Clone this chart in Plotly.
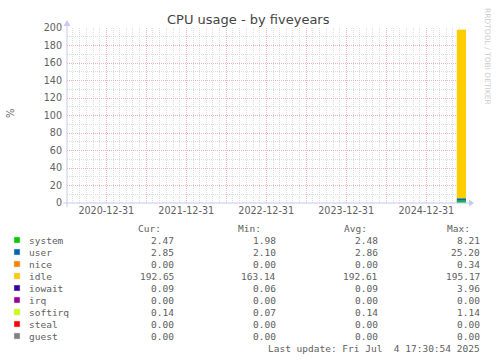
import plotly.graph_objects as go

# ---- data ----
dates = ["2025-05-19", "2025-05-26", "2025-06-02", "2025-06-09", "2025-06-16", "2025-06-23", "2025-06-30"]
series_names = ["system", "user", "nice", "idle", "iowait", "irq", "softirq", "steal", "guest"]
series_colors = ["#00CC00", "#0066B3", "#FF8000", "#FFCC00", "#330099", "#990099", "#CCFF00", "#FF0000", "#808080"]
system = [2.5, 2.45, 2.5, 2.48, 2.46, 2.47, 2.47]
user = [2.9, 2.85, 2.88, 2.86, 2.84, 2.85, 2.85]
nice = [0.0, 0.0, 0.0, 0.0, 0.0, 0.0, 0.0]
idle = [192.5, 192.6, 192.55, 192.6, 192.7, 192.65, 192.65]
iowait = [0.1, 0.09, 0.09, 0.09, 0.09, 0.09, 0.09]
irq = [0.0, 0.0, 0.0, 0.0, 0.0, 0.0, 0.0]
softirq = [0.14, 0.14, 0.14, 0.14, 0.14, 0.14, 0.14]
steal = [0.0, 0.0, 0.0, 0.0, 0.0, 0.0, 0.0]
guest = [0.0, 0.0, 0.0, 0.0, 0.0, 0.0, 0.0]
series_values = [system, user, nice, idle, iowait, irq, softirq, steal, guest]

cur_vals = ["2.47", "2.85", "0.00", "192.65", "0.09", "0.00", "0.14", "0.00", "0.00"]
min_vals = ["1.98", "2.10", "0.00", "163.14", "0.06", "0.00", "0.07", "0.00", "0.00"]
avg_vals = ["2.48", "2.86", "0.00", "192.61", "0.09", "0.00", "0.14", "0.00", "0.00"]
max_vals = ["8.21", "25.20", "0.34", "195.17", "3.96", "0.00", "1.14", "0.00", "0.00"]

x_tickvals = ["2020-12-31", "2021-07-01", "2021-12-31", "2022-07-01", "2022-12-31",
              "2023-07-01", "2023-12-31", "2024-07-01", "2024-12-31"]
x_ticktext = ["2020-12-31", "", "2021-12-31", "", "2022-12-31", "", "2023-12-31", "", "2024-12-31"]
x_range = ["2020-07-04 17:30", "2025-07-04 17:30"]

title = "CPU usage - by fiveyears"
last_update = "Last update: Fri Jul\u00a0 4 17:30:54 2025"

# ---- layout geometry (pixels) ----
W, H = 497, 360
L, R, T, B = 67, 467, 28, 203


def px(x):
    return (x - L) / (R - L)


def py(y):
    return (B - y) / (B - T)


fig = go.Figure()
for name, color, vals in zip(series_names, series_colors, series_values):
    fig.add_trace(go.Scatter(
        x=dates, y=vals, name=name, mode="lines", stackgroup="one",
        line=dict(width=0, shape="hv", color=color), fillcolor=color,
        showlegend=False, hoverinfo="skip"))

RED = "#f2b4b4"
GREY = "#dcdcdc"
AXC = "#c8c8f0"
TXT = "#606060"

fig.update_layout(
    width=W, height=H,
    margin=dict(l=L, r=W - R, t=T, b=H - B),
    paper_bgcolor="white", plot_bgcolor="white",
    font=dict(family="DejaVu Sans", color=TXT),
    xaxis=dict(
        range=x_range, tickmode="array", tickvals=x_tickvals, ticktext=x_ticktext,
        showgrid=True, gridcolor=RED, griddash="1px,1px", gridwidth=1,
        minor=dict(dtick="M1", tick0="2020-08-01", showgrid=True, gridcolor=GREY,
                   griddash="1px,1px", gridwidth=1),
        showline=False, zeroline=False, ticks="",
        tickfont=dict(size=9.6, color=TXT, family="DejaVu Sans"),
    ),
    yaxis=dict(
        range=[0, 200], dtick=20, tick0=0,
        showgrid=True, gridcolor=RED, griddash="1px,1px", gridwidth=1,
        minor=dict(dtick=10, showgrid=True, gridcolor=GREY, griddash="1px,1px", gridwidth=1),
        showline=False, zeroline=False, ticks="", ticklabelstandoff=4,
        tickfont=dict(size=9.6, color=TXT, family="DejaVu Sans"),
    ),
    showlegend=False,
)

shapes = []
# axis lines + arrows
shapes.append(dict(type="line", xref="paper", yref="paper", x0=px(63), x1=px(470), y0=0, y1=0,
                   line=dict(color=AXC, width=1)))
shapes.append(dict(type="line", xref="paper", yref="paper", x0=0, x1=0, y0=py(207), y1=py(22),
                   line=dict(color=AXC, width=1)))
shapes.append(dict(type="path", xref="paper", yref="paper",
                   path=f"M {px(469)},{py(199.5)} L {px(474)},{py(203)} L {px(469)},{py(206.5)} Z",
                   fillcolor=AXC, line=dict(width=0)))
shapes.append(dict(type="path", xref="paper", yref="paper",
                   path=f"M {px(63.5)},{py(26)} L {px(67)},{py(20)} L {px(70.5)},{py(26)} Z",
                   fillcolor=AXC, line=dict(width=0)))

annotations = []
annotations.append(dict(text=title, xref="paper", yref="paper", x=px(248), y=py(20),
                        xanchor="center", yanchor="middle", showarrow=False,
                        font=dict(size=13, color="#444444", family="DejaVu Sans")))
annotations.append(dict(text="%", xref="paper", yref="paper", x=px(10), y=py(113),
                        xanchor="center", yanchor="middle", showarrow=False, textangle=-90,
                        font=dict(size=10, color=TXT, family="DejaVu Sans")))
annotations.append(dict(text="RRDTOOL / TOBI OETIKER", xref="paper", yref="paper", x=px(488), y=py(56),
                        xanchor="center", yanchor="middle", showarrow=False, textangle=90,
                        font=dict(size=7.5, color="#cccccc", family="DejaVu Sans")))

MONO = dict(family="DejaVu Sans Mono", size=9.5, color=TXT)
headers = [("Cur:", 163), ("Min:", 263), ("Avg:", 369), ("Max:", 472)]
for htxt, hx in headers:
    annotations.append(dict(text=htxt, xref="paper", yref="paper", x=px(hx), y=py(228),
                            xanchor="right", yanchor="middle", showarrow=False, font=MONO))

col_right = [175.5, 278, 380, 482]
for i, name in enumerate(series_names):
    yc = 240 + 12 * i
    shapes.append(dict(type="rect", xref="paper", yref="paper",
                       x0=px(14), x1=px(20), y0=py(yc - 3), y1=py(yc + 3),
                       fillcolor=series_colors[i], line=dict(color="#dddddd", width=0.5)))
    annotations.append(dict(text=name, xref="paper", yref="paper", x=px(26.5), y=py(yc),
                            xanchor="left", yanchor="middle", showarrow=False, font=MONO))
    for vals, xr in zip([cur_vals, min_vals, avg_vals, max_vals], col_right):
        annotations.append(dict(text=vals[i], xref="paper", yref="paper", x=px(xr), y=py(yc),
                                xanchor="right", yanchor="middle", showarrow=False, font=MONO))

annotations.append(dict(text=last_update, xref="paper", yref="paper", x=px(482), y=py(348),
                        xanchor="right", yanchor="middle", showarrow=False, font=MONO))

fig.update_layout(shapes=shapes, annotations=annotations)
fig.write_html("out.html")
